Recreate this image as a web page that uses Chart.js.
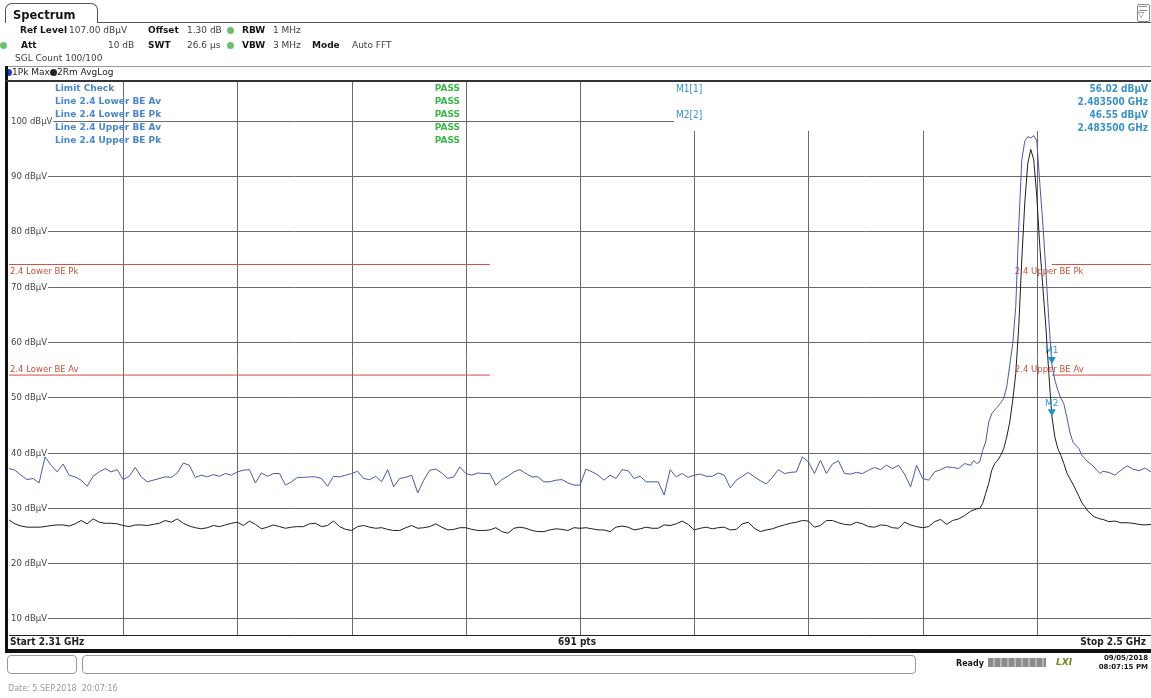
<!DOCTYPE html>
<html>
<head>
<meta charset="utf-8">
<script src="https://cdn.jsdelivr.net/npm/chart.js@4.4.1/dist/chart.umd.min.js"></script>
<style>
body{margin:0;background:#fff;}
#page{position:relative;width:1151px;height:698px;overflow:hidden;background:#fff;font-family:"DejaVu Sans",Verdana,sans-serif;}
#spectrum{position:absolute;left:0;top:0;}
.t{position:absolute;white-space:nowrap;font-size:9px;line-height:11px;color:#404040;}
.t b{color:#151515;}
.dot{position:absolute;width:7px;height:7px;border-radius:50%;}
.box{position:absolute;}
.lc{position:absolute;left:55px;top:82px;font:bold 9px/13px "DejaVu Sans",Verdana,sans-serif;color:#4a86c8;white-space:nowrap;}
.pass{position:absolute;left:400px;top:82px;width:60px;text-align:right;font:bold 9px/13px "DejaVu Sans",Verdana,sans-serif;color:#3fb54c;}
.mk{position:absolute;font:10px/13px "DejaVu Sans Condensed","Liberation Sans Narrow",sans-serif;color:#3a93c4;white-space:nowrap;}
.mv{position:absolute;left:948px;top:82px;width:200px;text-align:right;font:bold 10px/13px "DejaVu Sans Condensed","Liberation Sans Narrow",sans-serif;color:#3a93c4;}
.bl{position:absolute;top:635px;font:bold 10px/13px "DejaVu Sans Condensed","Liberation Sans Narrow",sans-serif;color:#222;white-space:nowrap;}
</style>
</head>
<body>
<div id="page">
<canvas id="spectrum" width="1151" height="698"></canvas>

<!-- tab and header -->
<div class="box" style="left:5px;top:3px;width:91px;height:19px;border:1px solid #555;border-bottom:none;border-radius:7px 7px 0 0;"></div>
<div class="box" style="left:97px;top:22px;width:1054px;height:1px;background:#555;"></div>
<div class="t" style="left:13px;top:9px;font-size:11.5px;line-height:13px;"><b>Spectrum</b></div>
<div class="box" style="left:1137px;top:4px;width:11px;height:16px;border:1px solid #888;border-radius:2px;"></div>
<div class="t" style="left:1138px;top:9px;font-size:8px;color:#666;">▽</div>
<div class="box" style="left:1139px;top:6px;width:8px;height:3px;border-top:1px solid #888;border-bottom:1px solid #888;"></div>

<div class="t" style="left:20px;top:25px;"><b>Ref Level</b></div>
<div class="t" style="left:69px;top:25px;">107.00 dBµV</div>
<div class="t" style="left:148px;top:25px;"><b>Offset</b></div>
<div class="t" style="left:187px;top:25px;">1.30 dB</div>
<div class="dot" style="left:227px;top:27px;background:#6cc070;"></div>
<div class="t" style="left:242px;top:25px;"><b>RBW</b></div>
<div class="t" style="left:273px;top:25px;">1 MHz</div>

<div class="dot" style="left:0px;top:42px;background:#6cc070;"></div>
<div class="t" style="left:21px;top:40px;"><b>Att</b></div>
<div class="t" style="left:108px;top:40px;">10 dB</div>
<div class="t" style="left:148px;top:40px;"><b>SWT</b></div>
<div class="t" style="left:187px;top:40px;">26.6 µs</div>
<div class="dot" style="left:227px;top:42px;background:#6cc070;"></div>
<div class="t" style="left:242px;top:40px;"><b>VBW</b></div>
<div class="t" style="left:273px;top:40px;">3 MHz</div>
<div class="t" style="left:312px;top:40px;"><b>Mode</b></div>
<div class="t" style="left:352px;top:40px;">Auto FFT</div>

<div class="t" style="left:15px;top:53px;">SGL Count 100/100</div>

<div class="box" style="left:5px;top:66px;width:1146px;height:1px;background:#999;"></div>
<div class="dot" style="left:5px;top:69px;background:#2438c8;"></div>
<div class="t" style="left:12px;top:67px;color:#222;">1Pk Max</div>
<div class="dot" style="left:50px;top:69px;background:#222;"></div>
<div class="t" style="left:57px;top:67px;color:#222;">2Rm AvgLog</div>

<!-- frame -->
<div class="box" style="left:5px;top:66px;width:3px;height:587px;background:#111;"></div>
<div class="box" style="left:5px;top:80px;width:1146px;height:2px;background:#333;"></div>
<div class="box" style="left:5px;top:649px;width:1146px;height:4px;background:#111;"></div>

<!-- limit check and marker tables -->
<div class="lc">Limit Check<br>Line 2.4 Lower BE Av<br>Line 2.4 Lower BE Pk<br>Line 2.4 Upper BE Av<br>Line 2.4 Upper BE Pk</div>
<div class="pass">PASS<br>PASS<br>PASS<br>PASS<br>PASS</div>
<div class="mk" style="left:676px;top:82px;">M1[1]</div>
<div class="mk" style="left:676px;top:108px;">M2[2]</div>
<div class="mv">56.02 dBµV<br>2.483500 GHz<br>46.55 dBµV<br>2.483500 GHz</div>

<!-- bottom labels -->
<div class="bl" style="left:10px;">Start 2.31 GHz</div>
<div class="bl" style="left:558px;">691 pts</div>
<div class="bl" style="left:1046px;width:100px;text-align:right;">Stop 2.5 GHz</div>

<!-- status bar -->
<div class="box" style="left:7px;top:655px;width:68px;height:17px;border:1px solid #999;border-radius:4px;"></div>
<div class="box" style="left:82px;top:655px;width:832px;height:17px;border:1px solid #999;border-radius:4px;"></div>
<div class="t" style="left:956px;top:658px;font-size:8px;"><b>Ready</b></div>
<div class="box" style="left:988px;top:658px;width:58px;height:9px;background:repeating-linear-gradient(90deg,#8c8c8c 0 5px,#b5b5b5 5px 7px);"></div>
<div class="t" style="left:1056px;top:657px;font-size:9px;color:#5a8c2a;font-style:italic;"><b style="color:#6f8a1e;">LXI</b></div>
<div class="t" style="left:1090px;top:654px;width:58px;text-align:right;font-size:7px;line-height:9px;"><b>09/05/2018<br>08:07:15 PM</b></div>

<div class="t" style="left:8px;top:683px;font-size:8px;color:#9a9a9a;">Date: 5.SEP.2018&nbsp; 20:07:16</div>
</div>

<script>
// sweep frequencies (MHz) and trace levels (dBuV)
var sweepMHz = [
  2310,2311,2312,2313,2314,2315,2316,2317,2318,2319,
  2320,2321,2322,2323,2324,2325,2326,2327,2328,2329,
  2330,2331,2332,2333,2334,2335,2336,2337,2338,2339,
  2340,2341,2342,2343,2344,2345,2346,2347,2348,2349,
  2350,2351,2352,2353,2354,2355,2356,2357,2358,2359,
  2360,2361,2362,2363,2364,2365,2366,2367,2368,2369,
  2370,2371,2372,2373,2374,2375,2376,2377,2378,2379,
  2380,2381,2382,2383,2384,2385,2386,2387,2388,2389,
  2390,2391,2392,2393,2394,2395,2396,2397,2398,2399,
  2400,2401,2402,2403,2404,2405,2406,2407,2408,2409,
  2410,2411,2412,2413,2414,2415,2416,2417,2418,2419,
  2420,2421,2422,2423,2424,2425,2426,2427,2428,2429,
  2430,2431,2432,2433,2434,2435,2436,2437,2438,2439,
  2440,2441,2442,2443,2444,2445,2446,2447,2448,2449,
  2450,2451,2452,2453,2454,2455,2456,2457,2458,2459,
  2460,2461,2462,2463,2464,2465,2466,2467,2468,2469,
  2470,2470.5,2471,2471.5,2472,2472.5,2473,2473.5,2474,2474.5,
  2475,2475.5,2476,2476.5,2477,2477.5,2478,2478.5,2479,2479.5,
  2480,2480.5,2481,2481.5,2482,2482.5,2483,2483.5,2484,2484.5,
  2485,2485.5,2486,2486.5,2487,2487.5,2488,2488.5,2489,2489.5,
  2490,2490.5,2491,2491.5,2492,
  2493,2494,2495,2496,2497,2498,2499,2500
];

var pkMax = [
  37.1,36.8,35.9,35.1,35.3,34.5,39.2,37.7,36.5,37.9,
  35.9,35.6,35.0,33.9,35.7,36.5,37.1,36.5,36.9,35.1,
  35.7,37.3,35.6,34.7,35.0,35.3,35.6,35.5,36.3,38.1,
  37.7,35.5,35.9,35.6,36.0,35.7,36.2,35.9,36.5,36.8,
  36.9,34.5,36.3,35.7,36.2,36.2,34.1,34.7,35.5,35.5,
  35.6,35.6,35.3,33.9,35.7,35.6,35.9,36.2,36.6,35.3,
  35.1,35.7,34.7,36.9,33.8,35.3,35.5,35.9,32.7,35.0,
  36.8,37.0,36.3,35.3,35.6,37.4,36.2,35.9,36.3,36.2,
  36.2,34.1,35.1,35.7,36.5,36.9,36.2,35.6,35.6,34.7,
  34.7,35.0,35.1,34.5,34.1,34.1,37.0,36.5,35.9,35.0,
  35.9,35.3,36.9,36.7,35.3,35.7,34.7,34.7,34.7,32.3,
  36.9,35.6,36.2,35.5,35.9,36.1,35.7,35.7,36.3,35.9,
  33.6,35.0,35.7,36.4,35.6,34.9,34.3,35.5,36.9,36.2,
  36.4,36.5,39.2,38.3,36.2,38.6,36.2,37.9,38.5,36.2,
  36.1,36.4,36.2,36.8,37.3,36.9,37.7,37.1,37.7,36.1,
  33.8,37.7,35.3,35.0,36.5,36.9,37.4,37.3,37.1,38.0,
  37.7,38.6,38.0,38.3,40.4,41.9,45.5,47.0,47.7,48.3,
  49.0,49.8,51.9,55.8,59.7,66.4,80.9,92.9,96.3,97.1,
  96.9,97.3,96.3,88.7,81.5,73.0,64.0,56.0,53.1,51.3,
  49.8,48.8,46.4,43.7,41.9,41.3,40.7,39.5,38.9,38.3,
  37.9,37.4,36.8,36.2,36.6,
  36.4,35.9,36.8,37.6,37.0,36.7,37.2,36.5
];

var rmAvg = [
  27.8,27.1,26.7,26.5,26.5,26.5,26.6,26.8,26.9,26.9,
  26.7,27.1,27.7,27.1,28.0,27.4,27.2,27.2,27.1,26.8,
  26.6,26.9,26.9,26.8,27.0,27.2,27.7,27.4,28.0,27.2,
  26.7,26.4,26.2,26.4,26.8,26.6,26.9,27.2,27.4,26.8,
  27.6,27.0,26.2,26.5,26.9,26.6,26.3,26.5,26.6,26.6,
  27.1,27.2,26.6,26.8,27.6,26.6,26.1,25.9,26.6,26.8,
  26.5,26.3,26.4,26.1,25.9,25.9,26.4,26.8,26.3,26.4,
  26.6,27.1,26.5,26.0,26.1,26.4,26.4,26.1,25.9,25.9,
  26.0,26.4,25.7,25.4,26.3,26.5,26.3,25.9,25.7,25.7,
  26.0,26.2,26.1,25.9,26.4,26.3,26.4,26.2,26.0,26.0,
  25.7,26.5,26.7,26.5,26.0,26.2,26.5,26.3,26.3,26.9,
  26.8,27.1,27.6,27.0,26.0,26.3,26.5,26.2,26.4,26.5,
  26.0,26.1,27.1,27.4,26.3,25.7,26.0,26.2,26.6,26.9,
  27.2,27.4,27.7,27.6,26.5,26.8,27.7,27.7,27.3,27.0,
  26.9,27.4,27.1,26.6,26.5,26.9,26.8,26.4,26.3,27.4,
  26.9,26.6,26.4,26.6,27.5,27.9,27.0,27.7,28.0,28.6,
  29.4,29.6,29.8,29.9,30.8,32.6,34.4,36.8,38.0,38.6,
  39.5,40.7,42.8,45.5,49.5,54.3,62.8,74.8,85.1,92.3,
  94.8,92.9,86.3,77.3,70.0,62.8,54.3,46.6,42.8,40.7,
  39.5,38.0,36.3,35.3,34.3,33.2,32.1,30.9,30.2,29.4,
  28.9,28.4,28.2,28.0,27.9,
  27.5,27.6,27.3,27.3,27.2,27.0,26.9,27.0
];

var levelTicks = [10, 20, 30, 40, 50, 60, 70, 80, 90, 100];
var freqGrid = [2329, 2348, 2367, 2386, 2405, 2424, 2443, 2462, 2481];

var limitNames = ['2.4 Lower BE Pk', '2.4 Lower BE Av', '2.4 Upper BE Pk', '2.4 Upper BE Av'];
var limitStart = [2310, 2310, 2483.5, 2483.5];
var limitStop = [2390, 2390, 2500, 2500];
var limitLevel = [74, 54, 74, 54];

var markerNames = ['M1', 'M2'];
var markerMHz = [2483.5, 2483.5];
var markerLevel = [56.02, 46.55];

var limitColor = '#d2503e';
var markerColor = '#2190c8';

var datasets = [
  {
    label: '2Rm AvgLog',
    data: sweepMHz.map(function (f, i) { return {x: f, y: rmAvg[i]}; }),
    borderColor: '#1e1e1e',
    borderWidth: 1,
    pointRadius: 0
  },
  {
    label: '1Pk Max',
    data: sweepMHz.map(function (f, i) { return {x: f, y: pkMax[i]}; }),
    borderColor: '#4a58a8',
    borderWidth: 1,
    pointRadius: 0
  }
];
limitNames.forEach(function (name, i) {
  datasets.push({
    label: name,
    data: [{x: limitStart[i], y: limitLevel[i]}, {x: limitStop[i], y: limitLevel[i]}],
    borderColor: limitColor,
    borderWidth: 1,
    pointRadius: 0
  });
});

// grid, level labels, limit labels and markers, all placed through the scales
var analyzerDraw = {
  id: 'analyzerDraw',
  beforeDatasetsDraw: function (chart) {
    var ctx = chart.ctx, a = chart.chartArea;
    var x = chart.scales.x, y = chart.scales.y;
    ctx.save();
    ctx.lineWidth = 1;
    ctx.strokeStyle = '#6a6a6a';
    levelTicks.forEach(function (v) {
      var py = Math.round(y.getPixelForValue(v)) + 0.5;
      ctx.beginPath(); ctx.moveTo(a.left, py); ctx.lineTo(a.right, py); ctx.stroke();
    });
    freqGrid.forEach(function (f) {
      var px = Math.round(x.getPixelForValue(f)) + 0.5;
      ctx.beginPath(); ctx.moveTo(px, a.top); ctx.lineTo(px, a.bottom); ctx.stroke();
    });
    ctx.strokeStyle = '#222';
    ctx.beginPath(); ctx.moveTo(a.left, a.bottom + 0.5); ctx.lineTo(a.right, a.bottom + 0.5); ctx.stroke();
    // marker readout panel hides the grid in the top right corner
    ctx.fillStyle = '#fff';
    ctx.fillRect(674, a.top, a.right - 674, 131 - a.top);
    ctx.font = '8.5px "DejaVu Sans", Verdana, sans-serif';
    ctx.textBaseline = 'middle';
    levelTicks.forEach(function (v) {
      var py = Math.round(y.getPixelForValue(v)) + 0.5;
      var s = v + ' dBµV';
      var w = ctx.measureText(s).width;
      ctx.fillStyle = '#fff';
      ctx.fillRect(a.left - 1, py - 5, w + 4, 10);
      ctx.fillStyle = '#444';
      ctx.fillText(s, a.left + 2, py);
    });
    ctx.restore();
  },
  afterDatasetsDraw: function (chart) {
    var ctx = chart.ctx, a = chart.chartArea;
    var x = chart.scales.x, y = chart.scales.y;
    ctx.save();
    ctx.font = '8.5px "DejaVu Sans", Verdana, sans-serif';
    ctx.textBaseline = 'middle';
    ctx.fillStyle = '#c9503d';
    limitNames.forEach(function (name, i) {
      var py = y.getPixelForValue(limitLevel[i]);
      var px = limitStart[i] === sweepMHz[0] ? a.left + 1 : x.getPixelForValue(limitStart[i]) - 37;
      var dy = name.indexOf('Pk') > 0 ? 7 : -5;
      ctx.fillText(name, px, py + dy);
    });
    ctx.font = '9px "DejaVu Sans", Verdana, sans-serif';
    ctx.textAlign = 'center';
    markerNames.forEach(function (name, i) {
      var px = x.getPixelForValue(markerMHz[i]);
      var py = y.getPixelForValue(markerLevel[i]);
      ctx.fillStyle = markerColor;
      ctx.beginPath();
      ctx.moveTo(px - 4, py - 7); ctx.lineTo(px + 4, py - 7); ctx.lineTo(px, py);
      ctx.closePath(); ctx.fill();
      ctx.fillStyle = '#3a9ccf';
      ctx.fillText(name, px, py - 13);
    });
    ctx.restore();
  }
};

var ctx = document.getElementById('spectrum');
var myChart = new Chart(ctx, {
  type: 'line',
  data: {datasets: datasets},
  options: {
    responsive: false,
    animation: false,
    layout: {padding: {left: 9, top: 82, right: 0, bottom: 63}},
    plugins: {legend: {display: false}, tooltip: {enabled: false}},
    elements: {line: {tension: 0}},
    scales: {
      x: {type: 'linear', min: 2310, max: 2500, display: false},
      y: {type: 'linear', min: 7, max: 107, display: false}
    }
  },
  plugins: [analyzerDraw]
});
</script>
</body>
</html>
